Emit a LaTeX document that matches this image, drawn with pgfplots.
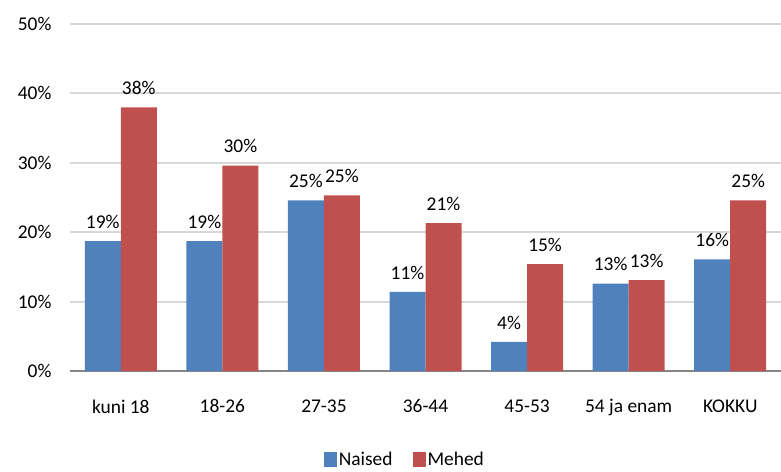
\documentclass[border=0pt]{standalone}
\usepackage{pgfplots}
\pgfplotsset{compat=1.18}
\usepackage{fontspec}
\setmainfont{Carlito}
\definecolor{naised}{HTML}{4F81BD}
\definecolor{mehed}{HTML}{C0504D}
\definecolor{gridgray}{HTML}{D9D9D9}
\definecolor{axisgray}{HTML}{868686}

\begin{document}
\begin{tikzpicture}
\begin{axis}[
  name=ax, at={(0,0)}, anchor=south west,
  scale only axis, width=711bp, height=347bp,
  ybar=0pt, bar width=36bp,
  xmin=-0.5, xmax=6.5, ymin=0, ymax=50,
  xtick=data,
  xticklabels={kuni 18,18-26,27-35,36-44,45-53,54 ja enam,KOKKU},
  ytick={0,10,...,50},
  yticklabel={\pgfmathprintnumber{\tick}\%},
  /pgf/number format/assume math mode=true,
  font=\fontsize{19.5}{23}\selectfont,
  axis lines*=left,
  x axis line style={axisgray, line width=2.2bp},
  y axis line style={draw=none},
  major tick length=0pt,
  ymajorgrids, grid style={gridgray, line width=2bp},
  xticklabel style={yshift=-25bp},
  yticklabel style={xshift=-15bp},
  nodes near coords={\pgfmathprintnumber[fixed,precision=0]{\pgfplotspointmeta}\%},
  every node near coord/.append style={text=black, yshift=9bp},
  legend style={at={(0.471,-0.256)}, anchor=center, draw=none,
    font=\fontsize{19.5}{23}\selectfont,
    /tikz/every even column/.append style={column sep=18bp}},
  legend columns=2,
  legend image code/.code={\fill[#1] (0bp,-7bp) rectangle (13bp,8bp);},
]
\addplot[fill=naised, draw=none] coordinates {
  (0,18.7) (1,18.7) (2,24.6) (3,11.4) (4,4.2) (5,12.6) (6,16.1)};
\addplot[fill=mehed, draw=none] coordinates {
  (0,38.0) (1,29.6) (2,25.3) (3,21.3) (4,15.4) (5,13.1) (6,24.6)};
\legend{Naised, Mehed}
\end{axis}
\pgfresetboundingbox
\path[use as bounding box] ([shift={(-70bp,-100bp)}]ax.south west) rectangle ([shift={(0bp,24bp)}]ax.north east);
\end{tikzpicture}
\end{document}
